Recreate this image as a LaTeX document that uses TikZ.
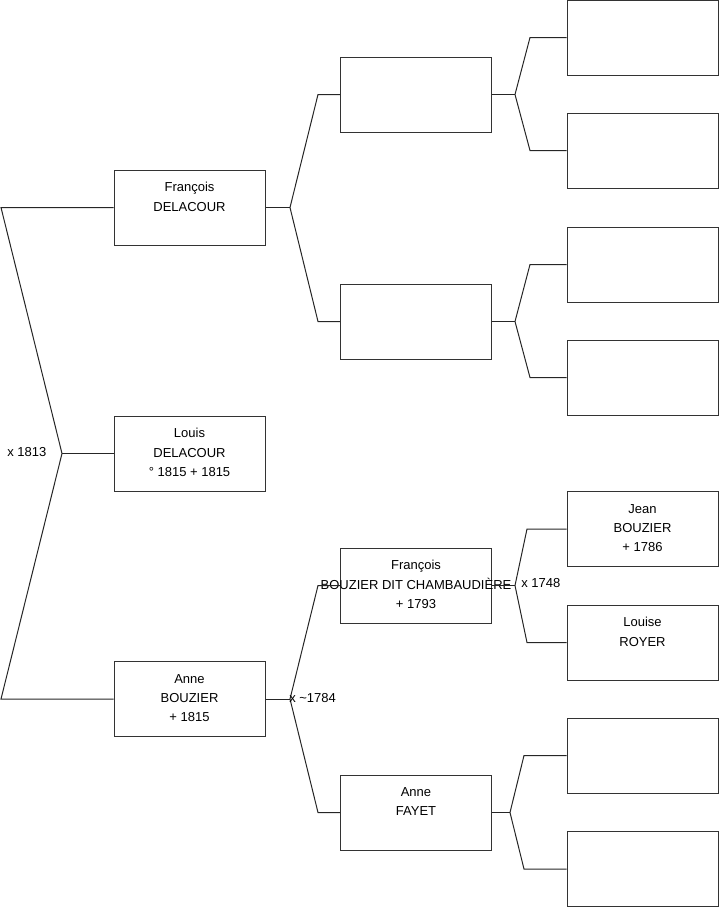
\documentclass[tikz,border=0pt]{standalone}
\usepackage{fontspec}
\setmainfont{Liberation Sans}
\usepackage{tikz}
\usetikzlibrary{positioning}

\begin{document}
\begin{tikzpicture}[
  x=0.75pt, y=-0.75pt,
  font=\fontsize{9.75}{14.6}\selectfont,
  person/.style={rectangle, draw=black!80, line width=0.75pt, fill=white,
                 minimum width=113.25pt, minimum height=56.25pt, inner sep=0pt},
  who/.style={anchor=north, align=center, inner sep=0pt, yshift=-9.6pt},
  link/.style={draw=black!85, line width=0.75pt},
  union/.style={anchor=base west, inner sep=0pt},
]
\useasboundingbox (0,0) rectangle (719,908);

% Generation 1 (child and parents)
\node[person] (fd) at (189.5,207.5) {};
\node[person] (lo) at (189.5,453.5) {};
\node[person] (ab) at (189.5,699) {};

% Generation 2 (grandparents)
\node[person] (p1) at (416,94.5) {};
\node[person] (p2) at (416,321.5) {};
\node[person] (fb) at (416,585.5) {};
\node[person] (af) at (416,812.5) {};

% Generation 3 (great-grandparents)
\foreach \n/\y in {g1/37.5, g2/150.5, g3/264.5, g4/377.5, g5/529, g6/642.5, g7/755.5, g8/869}
  {\node[person] (\n) at (642.5,\y) {};}

% Names
\node[who] (fd-t) at (fd.north) {François\\DELACOUR};
\node[who] (lo-t) at (lo.north) {Louis\\DELACOUR\\° 1815 + 1815};
\node[who] (ab-t) at (ab.north) {Anne\\BOUZIER\\+ 1815};
\node[who] (fb-t) at (fb.north) {François\\BOUZIER DIT CHAMBAUDIÈRE\\+ 1793};
\node[who] (af-t) at (af.north) {Anne\\FAYET};
\node[who] (g5-t) at (g5.north) {Jean\\BOUZIER\\+ 1786};
\node[who] (g6-t) at (g6.north) {Louise\\ROYER};

% Child to parents
\draw[link] (fd.west) -- (fd.west -| 1,0) -- (lo.west -| 62,0) -- (ab.west -| 1,0) -- (ab.west);
\draw[link] (lo.west) -- (lo.west -| 62,0);

% Parents to their parents
\foreach \p/\a/\b/\jx/\ex in {fd/p1/p2/290/318, ab/fb/af/290/318, p1/g1/g2/515/530,
                              p2/g3/g4/515/530, fb/g5/g6/515/527, af/g7/g8/510/524} {
  \draw[link] (\a.west) -- (\a.west -| \ex,0) -- (\p.east -| \jx,0) -- (\b.west -| \ex,0) -- (\b.west);
  \draw[link] (\p.east) -- (\p.east -| \jx,0);
}

% Marriages
\node[union] (m1) at (7,456.5) {x 1813};
\node[union] (m2) at (289,702.5) {x \textasciitilde 1784};
\node[union] (m3) at (521,587) {x 1748};

\end{tikzpicture}
\end{document}
